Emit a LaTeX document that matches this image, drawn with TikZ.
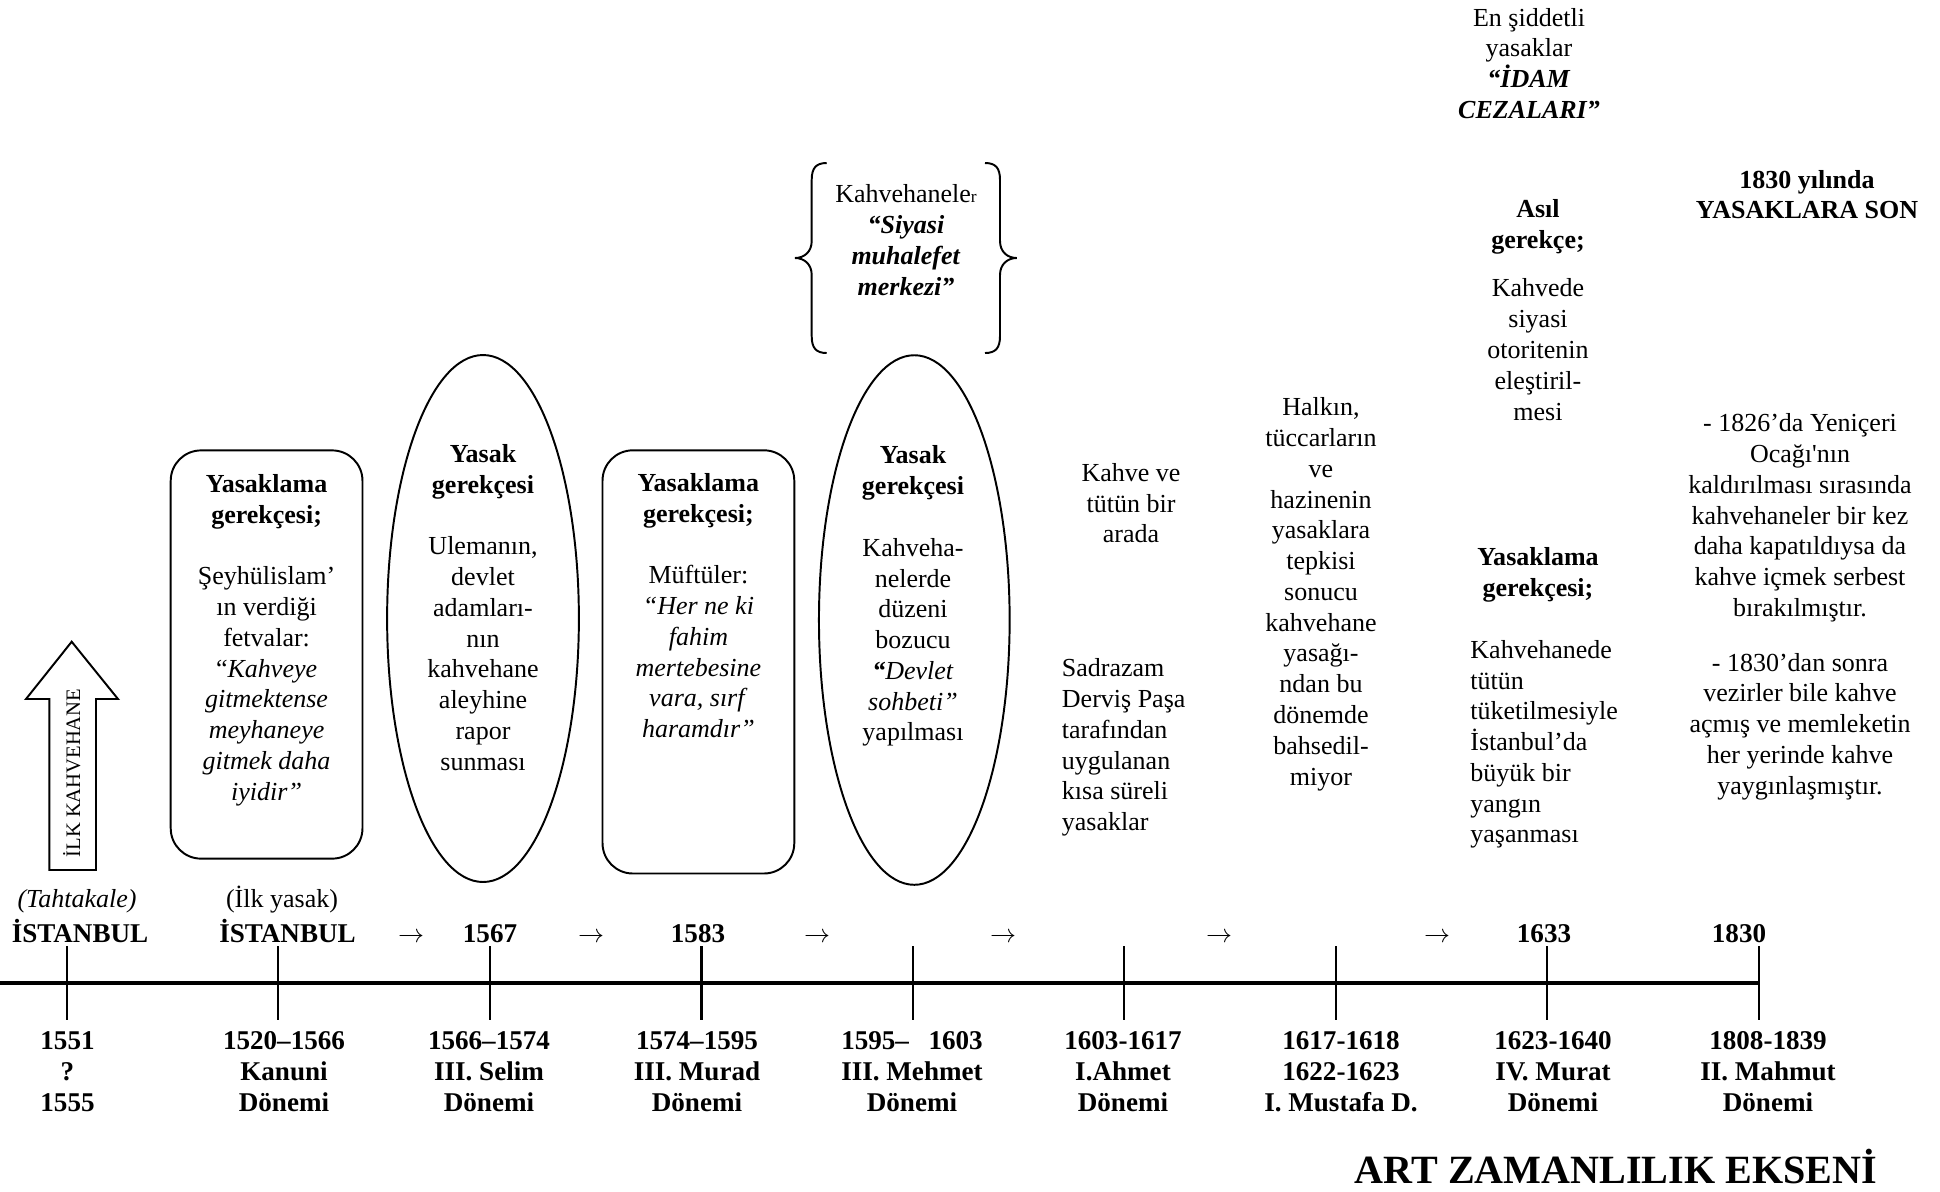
\documentclass[tikz,border=0pt]{standalone}
\usepackage{fontspec}
\setmainfont[Ligatures=TeXOff]{Liberation Serif}
\usetikzlibrary{shapes.geometric}
\newcommand\fst{\rule{0pt}{11pt}}
\tikzset{
  body/.style={font=\fontsize{12}{14.2}\selectfont, align=center, inner sep=0pt, anchor=north},
  bodyl/.style={body, align=left, anchor=north west},
  lbl/.style={font=\fontsize{12.5}{14.3}\selectfont\bfseries, align=center, inner sep=0pt, anchor=north},
  toplbl/.style={font=\fontsize{12.5}{14.3}\selectfont\bfseries, inner sep=0pt, anchor=base},
  toptxt/.style={font=\fontsize{12}{14.2}\selectfont, inner sep=0pt, anchor=base},
  arr/.style={font=\fontsize{12}{14.2}\selectfont, inner sep=0pt, anchor=base},
  rbox/.style={draw, line width=0.9pt, rounded corners=14pt, minimum width=88.5pt, inner sep=0pt},
  oval/.style={draw, ellipse, line width=0.9pt, inner sep=0pt},
  thin/.style={line width=0.9pt},
}
\begin{document}
\begin{tikzpicture}[x=0.4615pt,y=-0.4615pt]
\useasboundingbox (0,0) rectangle (1940,1191);
\fill[white] (0,0) rectangle (1940,1191);

% shapes
\node[rbox, minimum height=188.4pt] (box1) at (266.6,654.5) {};
\node[rbox, minimum height=195.3pt] (box2) at (698.4,661.9) {};
\node[oval, minimum width=88.5pt, minimum height=243.2pt] (ell1) at (483,618.5) {};
\node[oval, minimum width=88pt, minimum height=244.4pt] (ell2) at (914.3,620) {};

% braces
\draw[thin] (826.7,163) .. controls (816,163) and (811.7,168) .. (811.7,180) -- (811.7,241)
  .. controls (811.7,252) and (804,258) .. (795,258)
  .. controls (804,258) and (811.7,264) .. (811.7,275) -- (811.7,336)
  .. controls (811.7,348) and (816,353) .. (826.7,353);
\draw[thin] (985,163) .. controls (995.7,163) and (1000,168) .. (1000,180) -- (1000,241)
  .. controls (1000,252) and (1007.7,258) .. (1016.7,258)
  .. controls (1007.7,258) and (1000,264) .. (1000,275) -- (1000,336)
  .. controls (1000,348) and (995.7,353) .. (985,353);

% block arrow
\draw[thin, line join=miter] (49.3,870) -- (49.3,699) -- (26,699) -- (71.7,641.7) -- (118,699) -- (96,699) -- (96,870) -- cycle;
\node[rotate=90, anchor=base, font=\fontsize{9.5}{11}\selectfont, inner sep=0pt] (ilk) at (80,773) {İLK KAHVEHANE};

% texts in shapes
\node[body] (t1) at (266.6,468.2) {\fst\textbf{Yasaklama}\\ \textbf{gerekçesi;}\\[14.2pt] Şeyhülislam’\\ ın verdiği\\ fetvalar:\\ “\textit{Kahveye}\\ \textit{gitmektense}\\ \textit{meyhaneye}\\ \textit{gitmek daha}\\ \textit{iyidir”}};
\node[body] (t2) at (483,438.2) {\fst\textbf{Yasak}\\ \textbf{gerekçesi}\\[14.2pt] Ulemanın,\\ devlet\\ adamları-\\ nın\\ kahvehane\\ aleyhine\\ rapor\\ sunması};
\node[body] (t3) at (698.4,467.2) {\fst\textbf{Yasaklama}\\ \textbf{gerekçesi;}\\[14.2pt] Müftüler:\\ \textit{“Her ne ki}\\ \textit{fahim}\\ \textit{mertebesine}\\ \textit{vara, sırf}\\ \textit{haramdır”}};
\node[body] (t4) at (913,439.7) {\fst\textbf{Yasak}\\ \textbf{gerekçesi}\\[14.2pt] Kahveha-\\ nelerde\\ düzeni\\ bozucu\\ \textbf{\textit{“}}\textit{Devlet}\\ \textit{sohbeti”}\\ yapılması};
\node[body] (t5) at (906,178.7) {\fst Kahvehanele{\footnotesize r}\\ \textbf{\textit{“Siyasi}}\\ \textbf{\textit{muhalefet}}\\ \textbf{\textit{merkezi”}}};

% free texts
\node[body] (t6) at (1131,457) {\fst Kahve ve\\ tütün bir\\ arada};
\node[bodyl] (t7) at (1061.5,652.5) {\fst Sadrazam\\ Derviş Paşa\\ tarafından\\ uygulanan\\ kısa süreli\\ yasaklar};
\node[body] (t8) at (1321,391.5) {\fst Halkın,\\ tüccarların\\ ve\\ hazinenin\\ yasaklara\\ tepkisi\\ sonucu\\ kahvehane\\ yasağı-\\ ndan bu\\ dönemde\\ bahsedil-\\ miyor};
\node[body] (t9) at (1529,1.8) {\fst En şiddetli\\ yasaklar\\ \textbf{\textit{“İDAM}}\\ \textbf{\textit{CEZALARI”}}};
\node[body] (t10) at (1538,193.2) {\fst\textbf{Asıl}\\ \textbf{gerekçe;}};
\node[body] (t11) at (1538,272.7) {\fst Kahvede\\ siyasi\\ otoritenin\\ eleştiril-\\ mesi};
\node[body] (t12) at (1538,541.2) {\fst\textbf{Yasaklama}\\ \textbf{gerekçesi;}};
\node[bodyl] (t13) at (1470,634) {\fst Kahvehanede\\ tütün\\ tüketilmesiyle\\ İstanbul’da\\ büyük bir\\ yangın\\ yaşanması};
\node[body] (t14) at (1807,163.8) {\fst\textbf{1830 yılında}\\ \textbf{YASAKLARA SON}};
\node[body] (t15) at (1800,407.6) {\fst - 1826’da Yeniçeri\\ Ocağı'nın\\ kaldırılması sırasında\\ kahvehaneler bir kez\\ daha kapatıldıysa da\\ kahve içmek serbest\\ bırakılmıştır.\\[11pt] - 1830’dan sonra\\ vezirler bile kahve\\ açmış ve memleketin\\ her yerinde kahve\\ yaygınlaşmıştır.};

% top row
\node[toptxt] (u1) at (77,907) {\textit{(Tahtakale)}};
\node[toptxt] (u2) at (282,907) {(İlk yasak)};
\node[toplbl] (v1) at (80,942) {İSTANBUL};
\node[toplbl] (v2) at (287.5,942) {İSTANBUL};
\node[toplbl] (v3) at (490,942) {1567};
\node[toplbl] (v4) at (698,942) {1583};
\node[toplbl] (v5) at (1544,942) {1633};
\node[toplbl] (v6) at (1739,942) {1830};
\foreach \ax [count=\i] in {411,591,817,1003,1219,1437}
  \node[arr] (a\i) at (\ax,942) {$\rightarrow$};

% timeline
\coordinate (lineA) at (0,983);
\coordinate (lineB) at (1759,983);
\draw[line width=1.5pt] (lineA) -- (lineB);
\foreach \x [count=\i] in {67,278,490,701.5,913,1124,1336,1547,1759} {
  \coordinate (tk\i a) at (\x,946);
  \coordinate (tk\i b) at (\x,1020);
  \draw[line width=1.05pt] (tk\i a) -- (tk\i b);
}

% bottom labels
\node[lbl] (b1) at (67.5,1025.2) {\fst 1551\\ ?\\ 1555};
\node[lbl] (b2) at (284,1025.2) {\fst 1520–1566\\ Kanuni\\ Dönemi};
\node[lbl] (b3) at (489,1025.2) {\fst 1566–1574\\ III. Selim\\ Dönemi};
\node[lbl] (b4) at (697,1025.2) {\fst 1574–1595\\ III. Murad\\ Dönemi};
\node[lbl] (b5) at (912,1025.2) {\fst 1595–\hspace{9pt}1603\\ III. Mehmet\\ Dönemi};
\node[lbl] (b6) at (1123,1025.2) {\fst 1603-1617\\ I.Ahmet\\ Dönemi};
\node[lbl] (b7) at (1341,1025.2) {\fst 1617-1618\\ 1622-1623\\ I. Mustafa D.};
\node[lbl] (b8) at (1553,1025.2) {\fst 1623-1640\\ IV. Murat\\ Dönemi};
\node[lbl] (b9) at (1768,1025.2) {\fst 1808-1839\\ II. Mahmut\\ Dönemi};

\node[font=\fontsize{18.5}{22}\selectfont\bfseries, inner sep=0pt, anchor=base] (title) at (1616,1183) {ART ZAMANLILIK EKSENİ};
\end{tikzpicture}
\end{document}
